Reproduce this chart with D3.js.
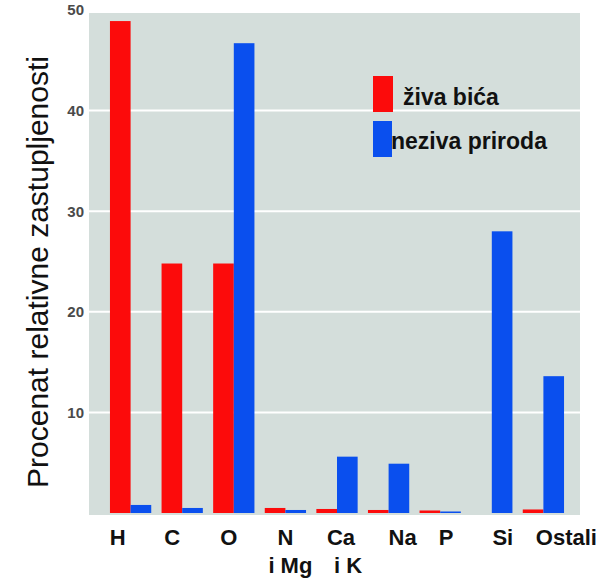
<!DOCTYPE html>
<html>
<head>
<meta charset="utf-8">
<script src="https://cdn.jsdelivr.net/npm/d3@7/dist/d3.min.js"></script>
<style>
  body { margin: 0; background: #fff; }
  svg { display: block; font-family: "Liberation Sans", Arial, sans-serif; }
</style>
</head>
<body>
<script>
// data
const categories = ["H", "C", "O", "N", "Ca", "Na", "P", "Si", "Ostali"];
const labelLine2 = ["", "", "", "i Mg", "i K", "", "", "", ""];
const zivaBica = [48.9, 24.8, 24.8, 0.5, 0.4, 0.3, 0.25, 0, 0.35];
const nezivaPriroda = [0.8, 0.5, 46.7, 0.3, 5.6, 4.9, 0.15, 28, 13.6];
const seriesNames = ["živa bića", "neziva priroda"];
const yTicks = [10, 20, 30, 40, 50];

// layout
const width = 610, height = 579;
const red = "#fc0b0b", blue = "#0a4fee";
const bgColor = "#d4dedb";
// label nudges (the scanned labels are not centred on the groups)
const nudge1 = [-13, -10, -5, 0, 4, 14, 6, 11, 23];
const nudge2 = [0, 0, 0, 5, 11, 0, 0, 0, 0];

const svg = d3.select("body").append("svg")
  .attr("width", width)
  .attr("height", height);

const x = d3.scaleBand()
  .domain(categories)
  .range([104.8, 569.2])
  .paddingInner(0.2)
  .paddingOuter(0.1);

const xs = d3.scaleBand()
  .domain([0, 1])
  .range([0, x.bandwidth()]);

const y = d3.scaleLinear()
  .domain([0, 50])
  .range([513, 10]);

// plot background
svg.append("rect")
  .attr("x", 89)
  .attr("y", y(50) + 3)
  .attr("width", 580 - 89)
  .attr("height", y(0) + 2 - (y(50) + 3))
  .attr("fill", bgColor);

// gridlines
svg.append("g")
  .selectAll("line")
  .data(yTicks.filter(d => d < 50))
  .enter()
  .append("line")
  .attr("x1", 89)
  .attr("x2", 580)
  .attr("y1", d => y(d))
  .attr("y2", d => y(d))
  .attr("stroke", "#fff")
  .attr("stroke-width", 2);

// y axis labels
const yAxis = d3.axisLeft(y).tickValues(yTicks).tickSize(0).tickPadding(0);
const yg = svg.append("g")
  .attr("transform", "translate(84,0)")
  .call(yAxis);
yg.select(".domain").remove();
yg.selectAll("text")
  .attr("font-family", "Liberation Sans, Arial, sans-serif")
  .attr("font-size", 15)
  .attr("font-weight", "bold")
  .attr("fill", "#4a4a4a");

// bars
const rows = categories.map((c, i) => ({ cat: c, vals: [zivaBica[i], nezivaPriroda[i]] }));
const groups = svg.append("g")
  .selectAll("g")
  .data(rows)
  .enter()
  .append("g")
  .attr("transform", d => `translate(${x(d.cat)},0)`);

groups.selectAll("rect")
  .data(d => d.vals.map((v, k) => ({ k, v })))
  .enter()
  .append("rect")
  .attr("x", d => xs(d.k))
  .attr("y", d => y(d.v))
  .attr("width", xs.bandwidth())
  .attr("height", d => y(0) - y(d.v))
  .attr("fill", d => d.k === 0 ? red : blue);

// x labels
const xl = svg.append("g")
  .attr("font-size", 22)
  .attr("font-weight", "bold")
  .attr("text-anchor", "middle")
  .attr("fill", "#111");

xl.selectAll("text.l1")
  .data(categories)
  .enter()
  .append("text")
  .attr("class", "l1")
  .attr("x", (d, i) => x(d) + x.bandwidth() / 2 + nudge1[i])
  .attr("y", 545)
  .text(d => d);

xl.selectAll("text.l2")
  .data(categories)
  .enter()
  .append("text")
  .attr("class", "l2")
  .attr("x", (d, i) => x(d) + x.bandwidth() / 2 + nudge2[i])
  .attr("y", 573)
  .text((d, i) => labelLine2[i]);

// y title
svg.append("text")
  .attr("transform", "translate(48,272) rotate(-90)")
  .attr("text-anchor", "middle")
  .attr("font-size", 30)
  .attr("fill", "#111")
  .text("Procenat relativne zastupljenosti");

// legend
const legend = svg.append("g");
legend.append("rect")
  .attr("x", 373).attr("y", 76).attr("width", 20).attr("height", 36)
  .attr("fill", red);
legend.append("rect")
  .attr("x", 373).attr("y", 121).attr("width", 19).attr("height", 36)
  .attr("fill", blue);
legend.append("text")
  .attr("x", 403).attr("y", 105)
  .attr("font-size", 23).attr("font-weight", "bold").attr("fill", "#111")
  .text(seriesNames[0]);
legend.append("text")
  .attr("x", 391).attr("y", 149)
  .attr("font-size", 23).attr("font-weight", "bold").attr("fill", "#111")
  .text(seriesNames[1]);
</script>
</body>
</html>
